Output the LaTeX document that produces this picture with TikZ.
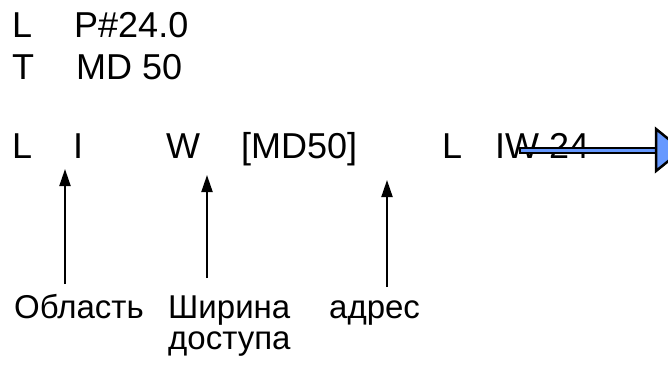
\documentclass[tikz,border=0pt]{standalone}
\usepackage{fontspec}
\setmainfont{Liberation Sans}
\usetikzlibrary{arrows.meta,calc}
\definecolor{arrowblue}{RGB}{102,153,255}

\begin{document}
\begin{tikzpicture}[x=1pt,y=-1pt,
    code/.style={anchor=base west, inner sep=0pt, font=\fontsize{36}{40}\selectfont},
    lbl/.style={anchor=base west, inner sep=0pt, align=left, font=\fontsize{33}{31}\selectfont},
    ptr/.style={line width=2pt, -{Triangle[length=17pt,width=11pt]}}]
    \useasboundingbox (0,0) rectangle (668,367);

    % First two lines
    \node[code] (ldP) at (12,37) {L};
    \node[code] (pval) at (74,37) {P\#24.0};
    \node[code] (trM) at (12,79) {T};
    \node[code] (md) at (76,79) {MD 50};

    % Indirect load
    \node[code] (ldI) at (12,158) {L};
    \node[code] (area) at (73,158) {I};
    \node[code] (width) at (166,158) {W};
    \node[code] (addr) at (241,158) {[MD50]};
    \node[code] (ldIW) at (442,158) {L};
    \node[code] (iw) at (495,158) {IW 24};

    % Labels (baseline of last line)
    \node[lbl] (lblArea) at (14,318) {Область};
    \node[lbl] (lblWidth) at (168,349) {Ширина\\доступа};
    \node[lbl] (lblAddr) at (329,318) {адрес};

    % Pointers
    \coordinate (areaTip) at (65,169);
    \coordinate (widthTip) at (207,175);
    \coordinate (addrTip) at (387,180);
    \coordinate (areaTail) at (65,284);
    \coordinate (widthTail) at (207,278);
    \coordinate (addrTail) at (387,287);
    \draw[ptr] (areaTail) -- (areaTip);
    \draw[ptr] (widthTail) -- (widthTip);
    \draw[ptr] (addrTail) -- (addrTip);

    % Equivalent instruction
    \coordinate (eqStart) at (520,150);
    \coordinate (eqEnd) at (656,150);
    \draw[fill=arrowblue, line width=2pt]
        ($(eqStart)+(0,-2.5)$) rectangle ($(eqEnd)+(0,2.5)$);
    \draw[fill=arrowblue, line width=2.5pt, line join=miter]
        ($(eqEnd)+(0,-21)$) -- ($(eqEnd)+(26,0)$) -- ($(eqEnd)+(0,21)$) -- cycle;
\end{tikzpicture}
\end{document}
